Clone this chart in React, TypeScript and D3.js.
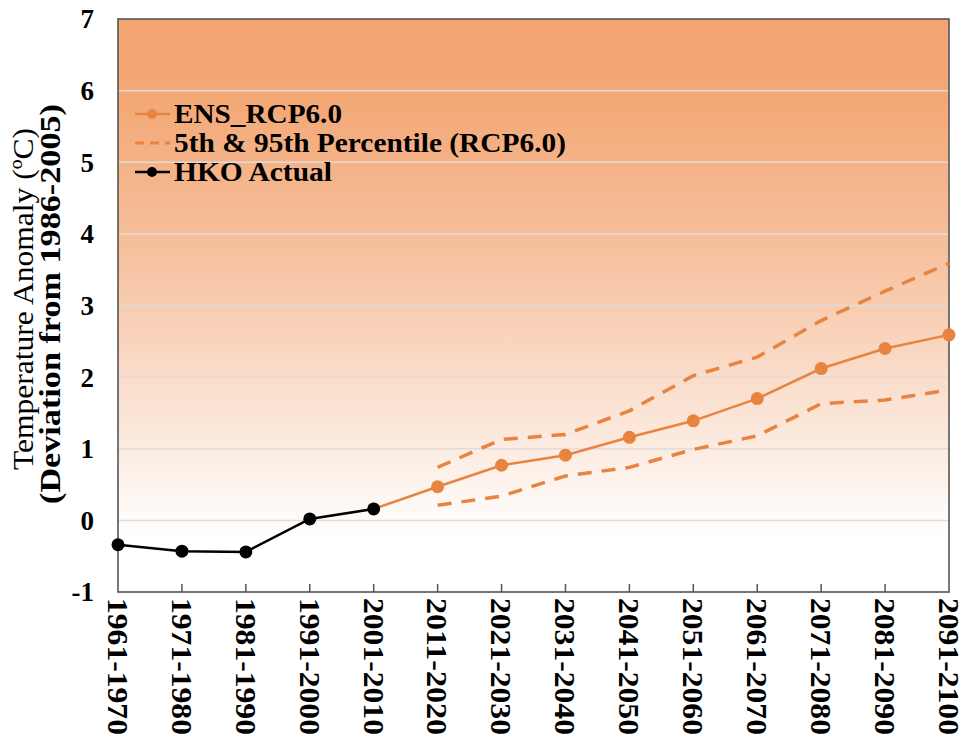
import React from 'react';
import * as d3 from 'd3';

const periods = [
  '1961-1970', '1971-1980', '1981-1990', '1991-2000', '2001-2010',
  '2011-2020', '2021-2030', '2031-2040', '2041-2050', '2051-2060',
  '2061-2070', '2071-2080', '2081-2090', '2091-2100',
];
// HKO observed (first 5 periods)
const hkoActual = [-0.34, -0.43, -0.44, 0.02, 0.16];
// ensemble mean, starts from the last observed period
const ensPeriods = periods.slice(4);
const ensRcp60 = [0.16, 0.47, 0.77, 0.91, 1.16, 1.39, 1.7, 2.12, 2.4, 2.59];
const pctPeriods = periods.slice(5);
const p95 = [0.74, 1.13, 1.2, 1.53, 2.02, 2.28, 2.79, 3.2, 3.59];
const p5 = [0.21, 0.34, 0.62, 0.74, 0.99, 1.18, 1.63, 1.68, 1.82];
const yTicks = [-1, 0, 1, 2, 3, 4, 5, 6, 7];
const legendItems = ['ENS_RCP6.0', '5th & 95th Percentile (RCP6.0)', 'HKO Actual'];

const W = 965;
const H = 744;
const left = 118;
const right = 949;
const top = 19;
const bottom = 592;
const orange = '#e8843f';
const font = '"Liberation Serif", "Times New Roman", serif';
const legendWidths = [168, 392, 158];

export default function App() {
  const x = d3.scalePoint<string>().domain(periods).range([left, right]);
  const y = d3.scaleLinear().domain([-1, 7]).range([bottom, top]);

  const line = d3
    .line<[string, number]>()
    .x((d) => x(d[0]) as number)
    .y((d) => y(d[1]));

  const hko = periods.slice(0, 5).map((p, i) => [p, hkoActual[i]] as [string, number]);
  const ens = ensPeriods.map((p, i) => [p, ensRcp60[i]] as [string, number]);
  const hi = pctPeriods.map((p, i) => [p, p95[i]] as [string, number]);
  const lo = pctPeriods.map((p, i) => [p, p5[i]] as [string, number]);

  return (
    <svg width={W} height={H} style={{ position: 'absolute', left: 0, top: 0 }} fontFamily={font}>
      <defs>
        <linearGradient id="bg" x1="0" y1="0" x2="0" y2="1">
          <stop offset="0%" stopColor="#f2a571" />
          <stop offset="14%" stopColor="#f3a876" />
          <stop offset="40%" stopColor="#f6c09d" />
          <stop offset="62%" stopColor="#fadcc9" />
          <stop offset="80%" stopColor="#fdf2eb" />
          <stop offset="90%" stopColor="#ffffff" />
          <stop offset="100%" stopColor="#ffffff" />
        </linearGradient>
      </defs>
      <rect width={W} height={H} fill="#fff" />
      <rect x={left} y={top} width={right - left} height={bottom - top} fill="url(#bg)" />

      {yTicks.slice(1, -1).map((t) => (
        <line key={t} x1={left} x2={right} y1={y(t)} y2={y(t)} stroke="#e2dcd8" strokeWidth={1.5} />
      ))}

      {periods.slice(1, -1).map((p) => (
        <line key={p} x1={x(p)} x2={x(p)} y1={bottom} y2={bottom - 8} stroke="#555" strokeWidth={1.5} />
      ))}
      <rect x={left} y={top} width={right - left} height={bottom - top} fill="none" stroke="#555" strokeWidth={1.6} />

      {yTicks.map((t) => (
        <text key={t} x={94} y={y(t)} dy="0.35em" textAnchor="end" fontSize={27} fontWeight="bold">
          {t}
        </text>
      ))}

      {periods.map((p) => (
        <text
          key={p}
          transform={`translate(${x(p)},${bottom + 6}) rotate(90)`}
          dy="0.35em"
          fontSize={29}
          fontWeight="bold"
          textLength={137}
          lengthAdjust="spacingAndGlyphs"
        >
          {p}
        </text>
      ))}

      <text
        transform={`translate(22,299) rotate(-90)`}
        textAnchor="middle"
        dy="0.35em"
        fontSize={30}
        textLength={342}
        lengthAdjust="spacingAndGlyphs"
      >
        Temperature Anomaly (ºC)
      </text>
      <text
        transform={`translate(49,304) rotate(-90)`}
        textAnchor="middle"
        dy="0.35em"
        fontSize={30}
        fontWeight="bold"
        textLength={400}
        lengthAdjust="spacingAndGlyphs"
      >
        (Deviation from 1986-2005)
      </text>

      <path d={line(hi) ?? ''} fill="none" stroke={orange} strokeWidth={3.5} strokeDasharray="14 10" />
      <path d={line(lo) ?? ''} fill="none" stroke={orange} strokeWidth={3.5} strokeDasharray="14 10" />
      <path d={line(ens) ?? ''} fill="none" stroke={orange} strokeWidth={2.5} />
      {ens.slice(1).map((d) => (
        <circle key={d[0]} cx={x(d[0])} cy={y(d[1])} r={6.5} fill={orange} />
      ))}
      <path d={line(hko) ?? ''} fill="none" stroke="#000" strokeWidth={2.5} />
      {hko.map((d) => (
        <circle key={d[0]} cx={x(d[0])} cy={y(d[1])} r={6.5} fill="#000" />
      ))}

      {legendItems.map((label, i) => {
        const ly = 114 + i * 29;
        const color = i === 2 ? '#000' : orange;
        return (
          <g key={label}>
            {i === 1 ? (
              <line x1={135} x2={170} y1={ly} y2={ly} stroke={color} strokeWidth={3} strokeDasharray="9 6" />
            ) : (
              <>
                <line x1={135} x2={170} y1={ly} y2={ly} stroke={color} strokeWidth={2.5} />
                <circle cx={152} cy={ly} r={5} fill={color} />
              </>
            )}
            <text
              x={174}
              y={ly}
              dy="0.35em"
              fontSize={27}
              fontWeight="bold"
              textLength={legendWidths[i]}
              lengthAdjust="spacingAndGlyphs"
            >
              {label}
            </text>
          </g>
        );
      })}
    </svg>
  );
}
